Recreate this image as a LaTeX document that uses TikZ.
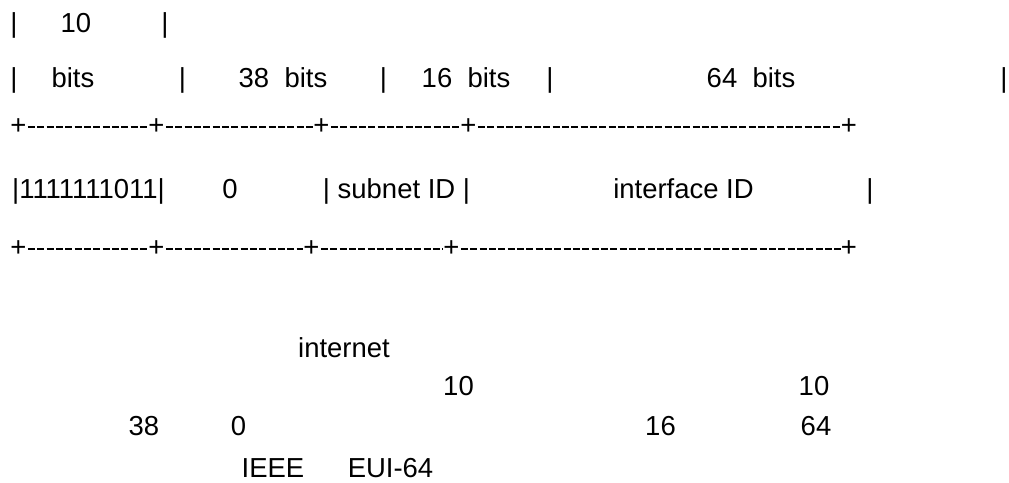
\documentclass[tikz,border=0pt]{standalone}
\usepackage{fontspec}
\setmainfont{Liberation Sans}
\usepackage{tikz}

\begin{document}
\begin{tikzpicture}[x=0.75pt,y=-0.75pt,
    txt/.style={inner sep=0pt,anchor=base,font=\fontsize{20.6pt}{24pt}\selectfont},
    rule/.style={line width=1.4pt,dash pattern=on 5.2pt off 1.8pt,dash phase=6.1pt}
  ]
  \useasboundingbox (0,0) rectangle (1009,482);
  % field widths
  \node[txt] (wbarA) at (14,32) {|};
  \node[txt] (wten) at (76,32) {10};
  \node[txt] (wbarB) at (165,32) {|};
  \node[txt] (bbarA) at (14,87) {|};
  \node[txt] (bprefix) at (73,87) {bits};
  \node[txt] (bbarB) at (182.5,87) {|};
  \node[txt] (bzero) at (283,87) {38\ \ bits};
  \node[txt] (bbarC) at (383.5,87) {|};
  \node[txt] (bsubnet) at (466,87) {16\ \ bits};
  \node[txt] (bbarD) at (550,87) {|};
  \node[txt] (biface) at (751,87) {64\ \ bits};
  \node[txt] (bbarE) at (1004,87) {|};
  % upper border
  \node[txt] (tA) at (18.5,134.5) {+};
  \node[txt] (tB) at (156.5,134.5) {+};
  \node[txt] (tC) at (321.5,134.5) {+};
  \node[txt] (tD) at (468.5,134.5) {+};
  \node[txt] (tE) at (849,134.5) {+};
  \foreach \a/\b in {tA/tB,tB/tC,tC/tD,tD/tE}
    \draw[rule] (\a.east) -- (\b.west);
  % fields
  \node[txt] (fprefix) at (88.5,198) {|1111111011|};
  \node[txt] (fzero) at (230,198) {0};
  \node[txt] (fsubnet) at (396.5,198) {| subnet ID |};
  \node[txt] (fiface) at (683.5,198) {interface ID};
  \node[txt] (fbar) at (870,198) {|};
  % lower border
  \node[txt] (uA) at (18.5,256.5) {+};
  \node[txt] (uB) at (156.5,256.5) {+};
  \node[txt] (uC) at (311.5,256.5) {+};
  \node[txt] (uD) at (451.5,256.5) {+};
  \node[txt] (uE) at (849,256.5) {+};
  \foreach \a/\b in {uA/uB,uB/uC,uC/uD,uD/uE}
    \draw[rule] (\a.east) -- (\b.west);
  % notes
  \node[txt] (ninternet) at (344,357) {internet};
  \node[txt] (ntenA) at (458.5,395) {10};
  \node[txt] (ntenB) at (814,395) {10};
  \node[txt] (nthirty) at (144,435) {38};
  \node[txt] (nzero) at (238.5,435) {0};
  \node[txt] (nsixteen) at (660.5,435) {16};
  \node[txt] (nsixty) at (816,435) {64};
  \node[txt] (nieee) at (273,477) {IEEE};
  \node[txt] (neui) at (390.5,477) {EUI-64};
\end{tikzpicture}
\end{document}
